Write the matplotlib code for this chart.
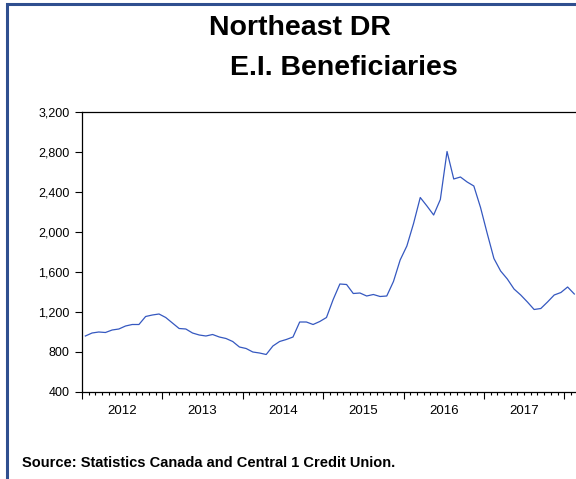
import matplotlib
matplotlib.use("Agg")
import matplotlib.pyplot as plt
from matplotlib.patches import Rectangle
from matplotlib.ticker import FuncFormatter

plt.rcParams["font.family"] = ["Liberation Sans", "DejaVu Sans"]

# Monthly E.I. beneficiaries, Northeast DR, Jan 2012 onward
beneficiaries = [
    960, 990, 1000, 995, 1020, 1030, 1060, 1075, 1075, 1155, 1170, 1180,
    1145, 1090, 1035, 1030, 990, 970, 960, 975, 950, 935, 905, 850,
    835, 800, 790, 775, 860, 905, 925, 950, 1100, 1100, 1075, 1105,
    1145, 1325, 1480, 1475, 1385, 1390, 1360, 1375, 1355, 1360, 1505, 1720,
    1860, 2085, 2345, 2260, 2170, 2325, 2805, 2530, 2550, 2500, 2460, 2245,
    1985, 1735, 1610, 1530, 1430, 1370, 1300, 1225, 1235, 1300, 1370, 1395,
    1450, 1380,
]
years = ["2012", "2013", "2014", "2015", "2016", "2017"]
y_ticks = [400, 800, 1200, 1600, 2000, 2400, 2800, 3200]

W, H = 576, 479
fig = plt.figure(figsize=(W / 100, H / 100), dpi=100)

# outer frame
fig.patches.append(Rectangle((7 / W, -0.1), 1.2, 1 - 3.5 / H + 0.1,
                             transform=fig.transFigure, fill=False,
                             edgecolor="#2f4f8f", linewidth=2.2))

fig.text(300 / W, 1 - 28 / H, "Northeast DR", ha="center", va="center",
         fontsize=20.5, fontweight="bold")
fig.text(344 / W, 1 - 68 / H, "E.I. Beneficiaries", ha="center", va="center",
         fontsize=20.5, fontweight="bold")
fig.text(22 / W, 1 - 463 / H, "Source: Statistics Canada and Central 1 Credit Union.",
         ha="left", va="center", fontsize=10.5, fontweight="bold")

left, right, top, bottom = 82, 581, 112, 392
ax = fig.add_axes([left / W, 1 - bottom / H, (right - left) / W, (bottom - top) / H])

months = list(range(len(beneficiaries)))
ax.plot(months, beneficiaries, color="#3558c0", linewidth=0.9)

ax.set_xlim(-0.5, 74)
ax.set_ylim(400, 3200)
ax.set_yticks(y_ticks)
ax.yaxis.set_major_formatter(FuncFormatter(lambda v, p: f"{int(v):,}"))

boundaries = [-0.5 + 12 * k for k in range(len(years) + 1)]
ax.set_xticks(boundaries)
ax.set_xticklabels([])
ax.set_xticks([m - 0.5 for m in range(75)], minor=True)
ax.tick_params(axis="x", which="major", direction="out", length=5, width=0.8)
ax.tick_params(axis="x", which="minor", direction="out", length=2.5, width=0.8)
ax.tick_params(axis="y", direction="out", length=5, width=0.8, labelsize=9, pad=4)

# year labels centred in each year
sec = ax.secondary_xaxis("bottom")
sec.set_xticks([5.5 + 12 * k for k in range(len(years))], years)
sec.tick_params(length=0, labelsize=9.5, pad=9)
sec.spines["bottom"].set_visible(False)

for s in ax.spines.values():
    s.set_linewidth(0.9)

fig.savefig("out.png", dpi=100)
